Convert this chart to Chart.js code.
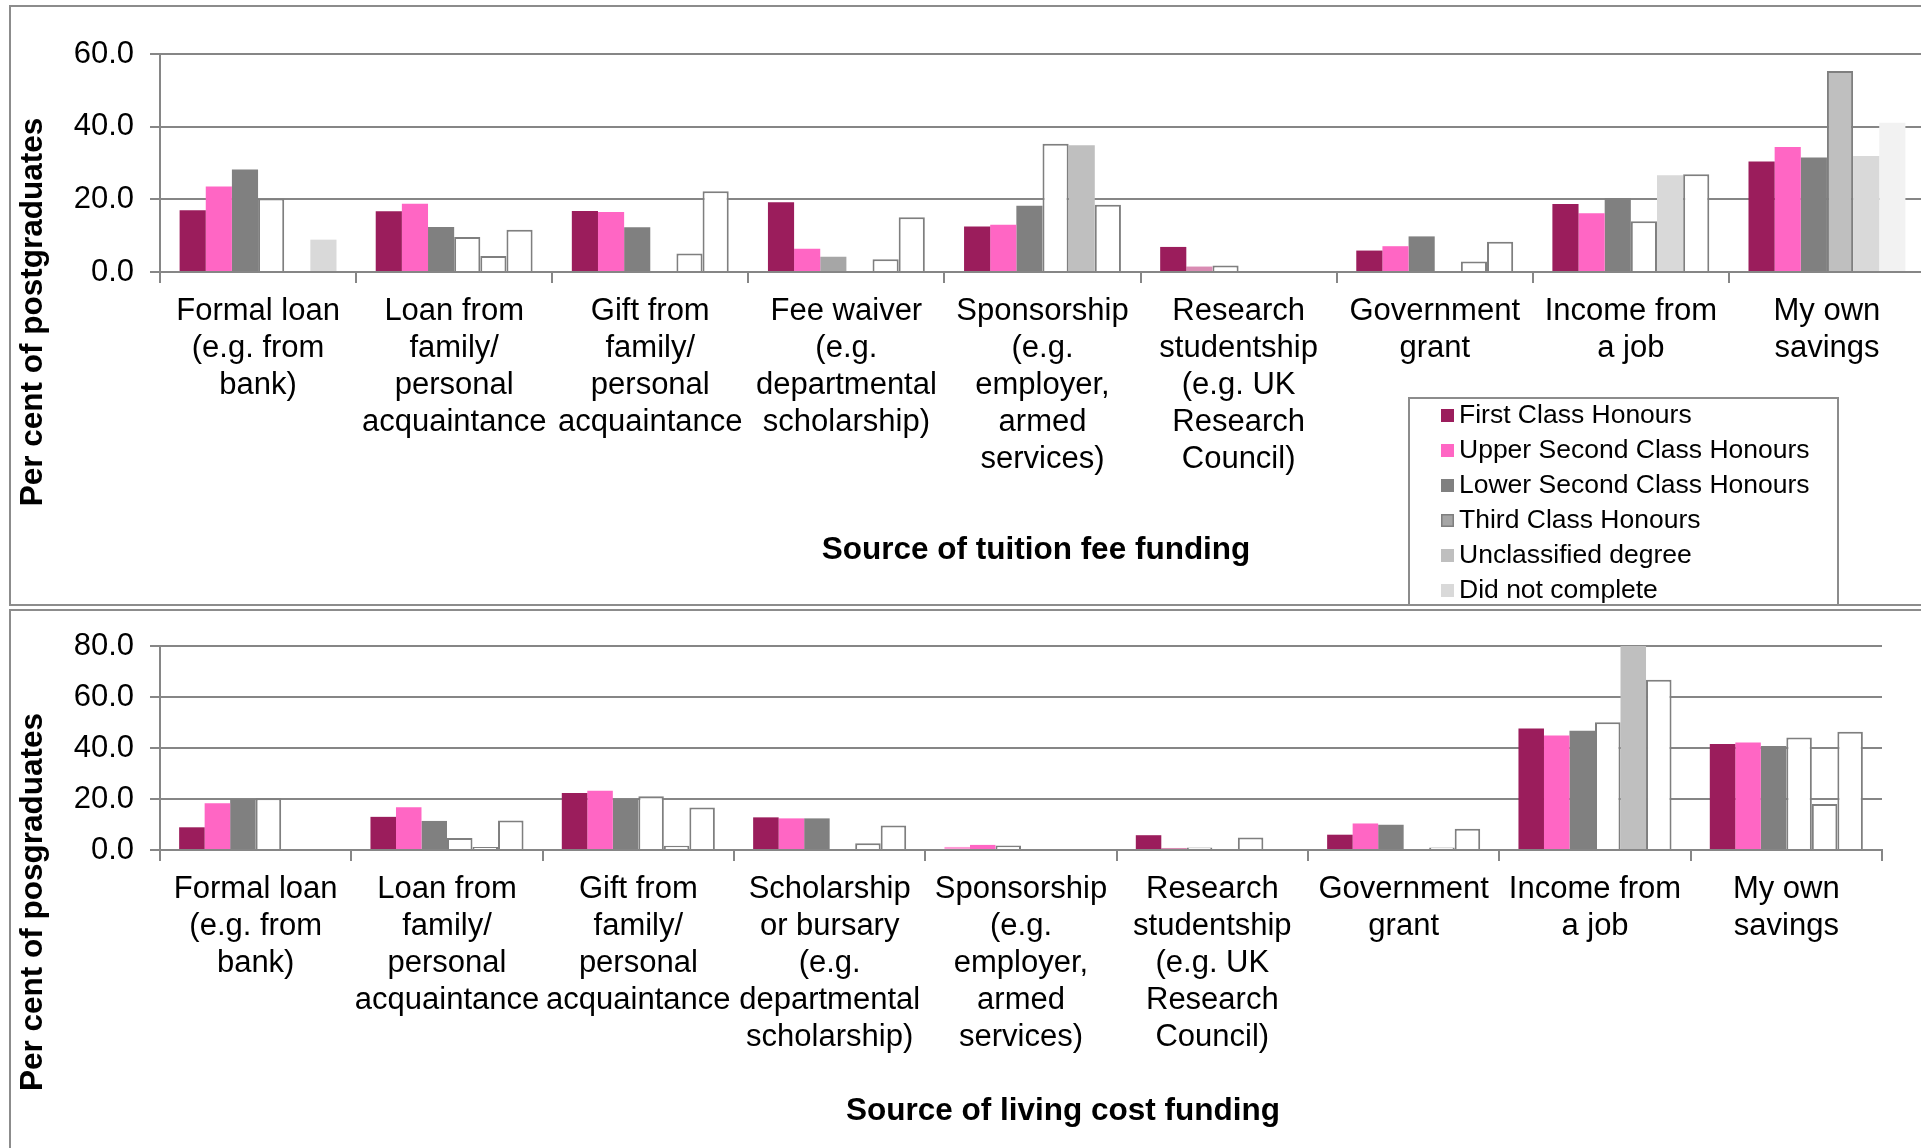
<!DOCTYPE html>
<html><head><meta charset="utf-8">
<script src="https://cdn.jsdelivr.net/npm/chart.js@4.4.1/dist/chart.umd.min.js"></script>
<style>
html,body{margin:0;padding:0;background:#fff;overflow:hidden;width:1921px;height:1148px;position:relative;}
#c1{position:absolute;left:0;top:6px;}
#c2{position:absolute;left:0;top:610px;}
.frame{position:absolute;border:2px solid #8c8c8c;box-sizing:border-box;pointer-events:none;z-index:5;}
</style></head><body>
<canvas id="c1" width="1930" height="599" style="width:1930px;height:599px"></canvas>
<canvas id="c2" width="1921" height="538" style="width:1921px;height:538px"></canvas>
<div class="frame" style="left:9px;top:5px;width:1940px;height:601px;"></div>
<div class="frame" style="left:9px;top:609px;width:1940px;height:600px;"></div>
<script>
// ---------- DATA ----------
const seriesNames = ["First Class Honours","Upper Second Class Honours","Lower Second Class Honours","Third Class Honours","Unclassified degree","Did not complete"];

const tuitionCategories = [
  ["Formal loan","(e.g. from","bank)"],
  ["Loan from","family/","personal","acquaintance"],
  ["Gift from","family/","personal","acquaintance"],
  ["Fee waiver","(e.g.","departmental","scholarship)"],
  ["Sponsorship","(e.g.","employer,","armed","services)"],
  ["Research","studentship","(e.g. UK","Research","Council)"],
  ["Government","grant"],
  ["Income from","a job"],
  ["My own","savings"]
];
const tuitionFirst        = [17.0, 16.7, 16.8, 19.2, 12.5, 6.9, 5.9, 18.7, 30.4];
const tuitionUpperSecond  = [23.5, 18.8, 16.5, 6.4, 13.0, 1.5, 7.1, 16.2, 34.4];
const tuitionLowerSecond  = [28.2, 12.4, 12.3, 4.2, 18.2, 1.8, 9.8, 20.4, 31.5];
const tuitionThird        = [20.2, 9.6, null, null, 35.3, null, null, 14.0, 55.3];
const tuitionUnclassified = [null, 4.4, 5.1, 3.5, 34.9, null, 2.9, 26.6, 31.9];
const tuitionDidNot       = [8.9, 11.6, 22.2, 15.1, 18.5, null, 8.3, 26.9, 41.1];
const tuitionYTicks = ["0.0","20.0","40.0","60.0"];

const livingCategories = [
  ["Formal loan","(e.g. from","bank)"],
  ["Loan from","family/","personal","acquaintance"],
  ["Gift from","family/","personal","acquaintance"],
  ["Scholarship","or bursary","(e.g.","departmental","scholarship)"],
  ["Sponsorship","(e.g.","employer,","armed","services)"],
  ["Research","studentship","(e.g. UK","Research","Council)"],
  ["Government","grant"],
  ["Income from","a job"],
  ["My own","savings"]
];
const livingFirst        = [8.9, 13.0, 22.4, 12.8, 1.2, 5.8, 6.0, 47.6, 41.6];
const livingUpperSecond  = [18.3, 16.8, 23.2, 12.4, 2.0, 0.8, 10.4, 44.9, 42.2];
const livingLowerSecond  = [20.0, 11.4, 20.0, 12.4, 1.8, 1.0, 9.9, 46.8, 40.8];
const livingThird        = [20.3, 4.7, 21.1, null, null, null, null, 50.1, 44.1];
const livingUnclassified = [null, 1.2, 1.7, 2.6, null, 4.9, 1.0, 80.0, 18.0];
const livingDidNot       = [null, 11.6, 16.7, 9.6, null, null, 8.3, 66.8, 46.4];
const livingYTicks = ["0.0","20.0","40.0","60.0","80.0"];

// ---------- STYLES ----------
const FONT = '"Liberation Sans", Arial, Helvetica, sans-serif';
const GRID = '#868686';
const STY = {
  M:{bg:'#9b1d5c',bc:'#9b1d5c',bw:0},
  P:{bg:'#ff66c4',bc:'#ff66c4',bw:0},
  LP:{bg:'#d98cb3',bc:'#d98cb3',bw:0},
  LQ:{bg:'#ff9ad6',bc:'#ff9ad6',bw:0},
  G:{bg:'#808080',bc:'#808080',bw:0},
  G2:{bg:'#a6a6a6',bc:'#a6a6a6',bw:0},
  W:{bg:'#ffffff',bc:'#7f7f7f',bw:2},
  B:{bg:'#bfbfbf',bc:'#7f7f7f',bw:2},
  S:{bg:'#bfbfbf',bc:'#bfbfbf',bw:0},
  D:{bg:'#d9d9d9',bc:'#d9d9d9',bw:0},
  F:{bg:'#f2f2f2',bc:'#f2f2f2',bw:0}
};
const tuitionStyle = [
  ['M','M','M','M','M','M','M','M','M'],
  ['P','P','P','P','P','LP','P','P','P'],
  ['G','G','G','G2','G','W','G','G','G'],
  ['W','W','W','W','W','W','W','W','B'],
  ['W','W','W','W','S','W','W','D','D'],
  ['D','W','W','W','W','W','W','W','F']
];
const livingStyle = [
  ['M','M','M','M','LQ','M','M','M','M'],
  ['P','P','P','P','P','LP','P','P','P'],
  ['G','G','G','G','W','W','G','G','G'],
  ['W','W','W','W','W','W','W','W','W'],
  ['W','W','W','W','W','W','W','S','W'],
  ['W','W','W','W','W','W','W','W','W']
];
const legendStyle = [
  {bg:'#9b1d5c'},{bg:'#ff66c4'},{bg:'#808080'},{bg:'#a6a6a6',bc:'#7f7f7f'},{bg:'#bfbfbf'},{bg:'#d9d9d9'}
];

function buildDatasets(seriesArr, styleArr){
  return seriesArr.map((vals,i)=>({
    label: seriesNames[i],
    data: vals,
    backgroundColor: styleArr[i].map(k=>STY[k].bg),
    borderColor: styleArr[i].map(k=>STY[k].bc),
    borderWidth: styleArr[i].map(k=>STY[k].bw),
    categoryPercentage: 0.8,
    barPercentage: 1.0
  }));
}

function titlesPlugin(opts){
  return {
    id:'titles',
    afterDraw(chart){
      const ctx = chart.ctx;
      ctx.save();
      ctx.fillStyle = '#000';
      ctx.font = 'bold 31.5px ' + FONT;
      ctx.textAlign = 'center';
      ctx.textBaseline = 'middle';
      ctx.fillText(opts.xTitle, opts.xTitleX, opts.xTitleY);
      ctx.translate(opts.yTitleX, opts.yTitleY);
      ctx.rotate(-Math.PI/2);
      ctx.fillText(opts.yTitle, 0, 0);
      ctx.restore();
    }
  };
}

const legendPlugin = {
  id:'boxLegend',
  afterDraw(chart){
    const ctx = chart.ctx;
    ctx.save();
    ctx.fillStyle = '#fff';
    ctx.fillRect(1409, 392, 429, 230);
    ctx.strokeStyle = '#8c8c8c';
    ctx.lineWidth = 2;
    ctx.strokeRect(1409, 392, 429, 230);
    ctx.font = '26.5px ' + FONT;
    ctx.textBaseline = 'middle';
    ctx.textAlign = 'left';
    chart.data.datasets.forEach((ds,i)=>{
      const y = 409 + i*35;
      const st = legendStyle[i];
      ctx.fillStyle = st.bg;
      ctx.fillRect(1441, y-6, 13, 13);
      if (st.bc){ ctx.strokeStyle = st.bc; ctx.lineWidth = 1.5; ctx.strokeRect(1441.75, y-5.25, 11.5, 11.5); }
      ctx.fillStyle = '#000';
      ctx.fillText(ds.label, 1459, y + 1);
    });
    ctx.restore();
  }
};

function makeChart(id, cats, datasets, yMax, yTicks, xHeight, padding, plugins){
  return new Chart(document.getElementById(id), {
    type:'bar',
    data:{ labels: cats, datasets: datasets },
    options:{
      responsive:false, animation:false, events:[],
      layout:{ padding: padding },
      plugins:{ legend:{display:false}, tooltip:{enabled:false}, title:{display:false} },
      scales:{
        x:{
          ticks:{ font:{family:FONT, size:31, lineHeight:1.19}, color:'#000', padding:10, autoSkip:false, maxRotation:0, minRotation:0 },
          grid:{ display:true, drawOnChartArea:false, color:GRID, lineWidth:2, tickLength:11, offset:true },
          border:{ color:GRID, width:2 },
          afterFit(s){ s.height = xHeight; }
        },
        y:{
          min:0, max:yMax,
          ticks:{ stepSize:20, font:{family:FONT, size:31}, color:'#000', padding:16,
                  callback:(v,i)=> yTicks[i] },
          grid:{ color:GRID, lineWidth:2, tickLength:10 },
          border:{ color:GRID, width:2 },
          afterFit(s){ s.width = 160; }
        }
      }
    },
    plugins: plugins
  });
}

makeChart('c1', tuitionCategories,
  buildDatasets([tuitionFirst,tuitionUpperSecond,tuitionLowerSecond,tuitionThird,tuitionUnclassified,tuitionDidNot], tuitionStyle),
  60, tuitionYTicks, 333, {top:48,left:0,right:5,bottom:0},
  [titlesPlugin({xTitle:'Source of tuition fee funding', xTitleX:1036, xTitleY:544, yTitle:'Per cent of postgraduates', yTitleX:33, yTitleY:306}), legendPlugin]);

makeChart('c2', livingCategories,
  buildDatasets([livingFirst,livingUpperSecond,livingLowerSecond,livingThird,livingUnclassified,livingDidNot], livingStyle),
  80, livingYTicks, 298, {top:36,left:0,right:39,bottom:0},
  [titlesPlugin({xTitle:'Source of living cost funding', xTitleX:1063, xTitleY:501, yTitle:'Per cent of posgraduates', yTitleX:33, yTitleY:292})]);
</script>
</body></html>
